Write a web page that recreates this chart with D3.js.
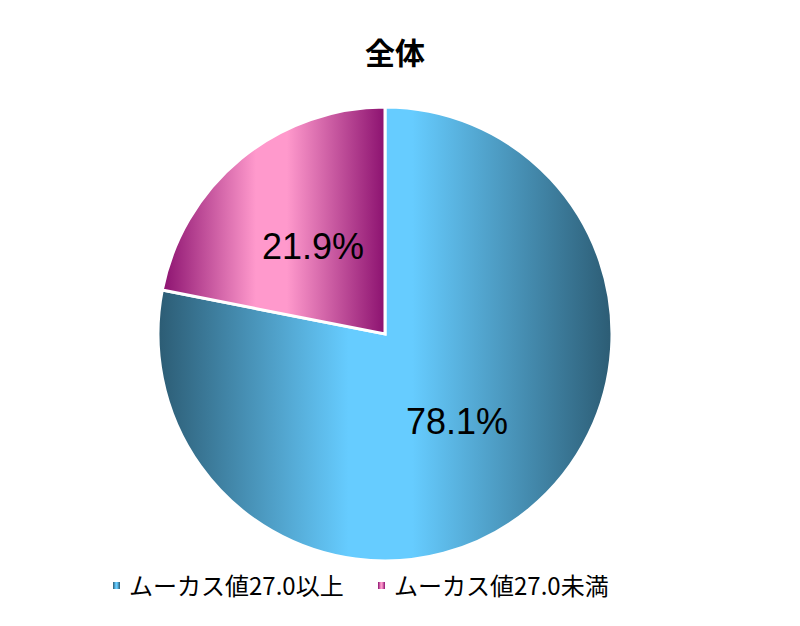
<!DOCTYPE html>
<html>
<head>
<meta charset="utf-8">
<script src="https://cdn.jsdelivr.net/npm/d3@7"></script>
<style>
  body { margin: 0; background: #fff; }
  svg { display: block; }
</style>
</head>
<body>
<svg id="chart" width="800" height="626"></svg>
<script>
// データ
const categories = ["ムーカス値27.0以上", "ムーカス値27.0未満"];
const values = [78.1, 21.9];
const title = "全体";

const colors = [
  { dark: "#2c5c74", light: "#66ccff" },
  { dark: "#8c1270", light: "#ff99cc" }
];

const width = 800, height = 626;
const cx = 385, cy = 334, radius = 227;

const svg = d3.select("#chart");
const defs = svg.append("defs");

// スライスごとの横グラデーション（端が暗く中央が明るい）
colors.forEach((c, i) => {
  const g = defs.append("linearGradient")
    .attr("id", "grad" + i)
    .attr("x1", "0").attr("y1", "0")
    .attr("x2", "1").attr("y2", "0");
  g.append("stop").attr("offset", "0").attr("stop-color", c.dark);
  g.append("stop").attr("offset", "0.42").attr("stop-color", c.light);
  g.append("stop").attr("offset", "0.56").attr("stop-color", c.light);
  g.append("stop").attr("offset", "1").attr("stop-color", c.dark);
});

// タイトル
svg.append("text")
  .attr("x", 395)
  .attr("y", 64)
  .attr("text-anchor", "middle")
  .style("font-family", "'Noto Sans CJK JP', sans-serif")
  .style("font-weight", "bold")
  .style("font-size", "30px")
  .text(title);

const pie = d3.pie().sort(null).value(d => d);
const arcs = pie(values);
const arc = d3.arc().innerRadius(0).outerRadius(radius);
const labelArc = d3.arc().innerRadius(radius * 0.5).outerRadius(radius * 0.5);

const g = svg.append("g").attr("transform", `translate(${cx},${cy})`);

g.selectAll("path")
  .data(arcs)
  .enter()
  .append("path")
  .attr("d", arc)
  .attr("fill", (d, i) => `url(#grad${i})`)
  .attr("stroke", "#fff")
  .attr("stroke-width", 3)
  .attr("stroke-linejoin", "miter");

g.selectAll(".lbl")
  .data(arcs)
  .enter()
  .append("text")
  .attr("class", "lbl")
  .attr("transform", d => `translate(${labelArc.centroid(d)})`)
  .attr("text-anchor", "middle")
  .attr("dy", "0.34em")
  .style("font-family", "'Liberation Sans', Arial, sans-serif")
  .style("font-size", "36px")
  .text(d => d.value.toFixed(1) + "%");

// 凡例
const legendX = [113, 378];
const legend = svg.selectAll(".legend")
  .data(categories)
  .enter()
  .append("g")
  .attr("class", "legend")
  .attr("transform", (d, i) => `translate(${legendX[i]},586)`);

legend.append("rect")
  .attr("x", 0).attr("y", -4)
  .attr("width", 7).attr("height", 7)
  .attr("fill", (d, i) => `url(#grad${i})`);

legend.append("text")
  .attr("x", 16)
  .attr("dy", "0.36em")
  .style("font-family", "'Noto Sans CJK JP', sans-serif")
  .style("font-size", "24px")
  .text(d => d);
</script>
</body>
</html>
